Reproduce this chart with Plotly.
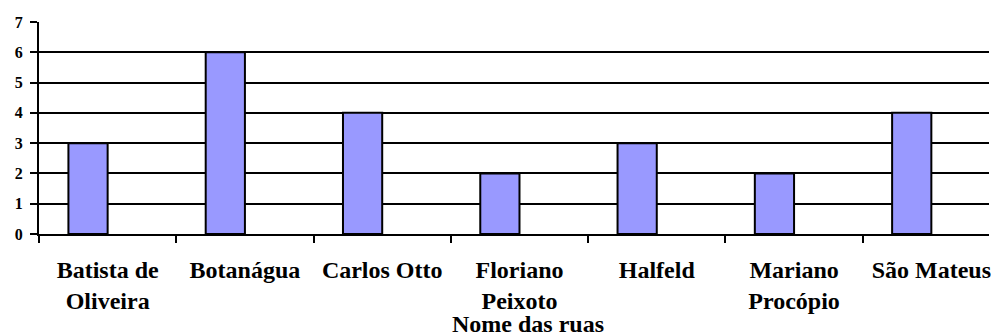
import plotly.graph_objects as go

categories = ["Batista de<br>Oliveira", "Botanágua", "Carlos Otto", "Floriano<br>Peixoto",
              "Halfeld", "Mariano<br>Procópio", "São Mateus"]
values = [3, 6, 4, 2, 3, 2, 4]
empty_series = [None] * len(categories)
y_ticks = [0, 1, 2, 3, 4, 5, 6, 7]
x_title = "Nome das ruas"

W, H = 991, 335
L, T, B = 39, 22, 101

font_family = "Liberation Serif"

fig = go.Figure()
fig.add_trace(go.Bar(x=categories, y=values, marker=dict(color="#9999FF", line=dict(color="black", width=2)),
                     showlegend=False))
fig.add_trace(go.Bar(x=categories, y=empty_series, marker=dict(color="#993366"), showlegend=False))

fig.update_layout(
    width=W, height=H,
    margin=dict(l=L, r=0, t=T, b=B, pad=0),
    paper_bgcolor="white", plot_bgcolor="white",
    barmode="group", bargap=1.5 / 3.5, bargroupgap=0,
    font=dict(family=font_family, color="black"),
)
fig.update_xaxes(
    type="category",
    range=[-0.5, 6.42],
    showline=True, linecolor="black", linewidth=2,
    ticks="outside", tickson="boundaries", ticklen=7, tickwidth=2, tickcolor="black",
    tickfont=dict(family=font_family, size=24, weight="bold", color="black"),
    ticklabelstandoff=13,
    showgrid=False, zeroline=False,
    fixedrange=True,
)
fig.update_yaxes(
    range=[0, 7], tickvals=y_ticks,
    showline=True, linecolor="black", linewidth=2,
    ticks="outside", ticklen=7, tickwidth=2, tickcolor="black",
    tickfont=dict(family=font_family, size=16, weight="bold", color="black"),
    ticklabelstandoff=4,
    showgrid=True, gridcolor="black", gridwidth=2,
    zeroline=False,
)
fig.add_annotation(
    text=x_title, xref="paper", yref="paper",
    x=(529 - L) / (W - L), y=0, yshift=-105,
    xanchor="center", yanchor="bottom", showarrow=False,
    font=dict(family=font_family, size=24, weight="bold", color="black"),
)

fig.write_html("out.html")
